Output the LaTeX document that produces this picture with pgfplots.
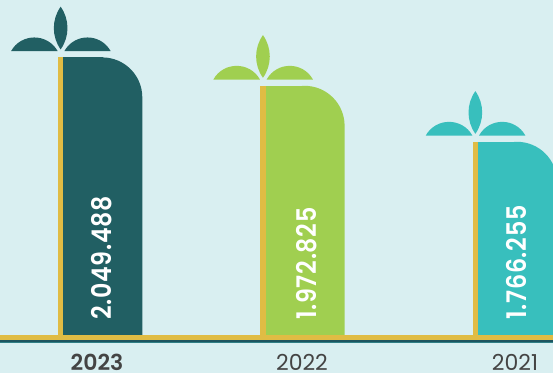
\documentclass[border=0pt]{standalone}
\usepackage{fontspec}
\usepackage{pgfplots}
\pgfplotsset{compat=1.18}
\setmainfont{Poppins}
\newfontfamily\valuefont[LetterSpace=3]{Poppins SemiBold}
\newfontfamily\yearbold{Poppins SemiBold}

\definecolor{bgpale}{HTML}{D9EFF1}
\definecolor{deepteal}{HTML}{215F63}
\definecolor{leafgreen}{HTML}{A0CF50}
\definecolor{turquoise}{HTML}{38BFBD}
\definecolor{gold}{HTML}{E0BC44}
\definecolor{groundline}{HTML}{1E5560}
\definecolor{groundlow}{HTML}{2F7F85}
\definecolor{yeartext}{HTML}{444444}

\tikzset{value label/.style={rotate=90, text=white, font=\fontsize{27}{28}\valuefont, anchor=west, inner sep=0pt, xscale=0.88}}

% Three-leaf sprout that sits on top of each bar
\pgfdeclareplotmark{sprout}{%
  \pgfpathmoveto{\pgfqpoint{0pt}{8pt}}
  \pgfpathcurveto{\pgfqpoint{9.1pt}{20.8pt}}{\pgfqpoint{9.1pt}{37.9pt}}{\pgfqpoint{0pt}{50.7pt}}
  \pgfpathcurveto{\pgfqpoint{-9.1pt}{37.9pt}}{\pgfqpoint{-9.1pt}{20.8pt}}{\pgfqpoint{0pt}{8pt}}
  \pgfpathclose
  \pgfpathmoveto{\pgfqpoint{-49.6pt}{6.3pt}}
  \pgfpathcurveto{\pgfqpoint{-39.4pt}{24.5pt}}{\pgfqpoint{-13.2pt}{24.5pt}}{\pgfqpoint{-3pt}{6.3pt}}
  \pgfpathclose
  \pgfpathmoveto{\pgfqpoint{3.7pt}{6.3pt}}
  \pgfpathcurveto{\pgfqpoint{13.9pt}{24.5pt}}{\pgfqpoint{39.8pt}{24.5pt}}{\pgfqpoint{50pt}{6.3pt}}
  \pgfpathclose
  \pgfusepathqfill
}

% One bar: gold edge, body with a rounded upper right corner, sprout
% #1 colour, #2 left edge of the gold strip, #3 value in thousands
\newcommand{\sproutbar}[3]{%
  \pgfmathsetmacro{\goldmid}{#2+2.65}
  \pgfmathsetmacro{\bodyl}{#2+5.3}
  \pgfmathsetmacro{\bodyr}{#2+84.3}
  \pgfmathsetmacro{\bodymid}{#2+25.3}
  \edef\tmp{%
    \noexpand\addplot[fill=#1, draw=none, rounded corners=40pt]
      coordinates {(\bodyr,1053.2) (\bodyr,#3) (\bodyl,#3) (\bodyl,1053.2)};
    \noexpand\addplot[ybar, bar width=40pt, bar shift=0pt, fill=#1, draw=none]
      coordinates {(\bodymid,#3)};
    \noexpand\addplot[ybar, bar width=5.3pt, bar shift=0pt, fill=gold, draw=none]
      coordinates {(\goldmid,#3)};
    \noexpand\addplot[only marks, mark=sprout, mark options={fill=#1, draw=none}]
      coordinates {(\goldmid,#3)};
  }\tmp
}

\begin{document}
\begin{tikzpicture}
\fill[bgpale] (0pt,-30pt) rectangle (553pt,343pt);
\begin{axis}[
  at={(0pt,0pt)}, anchor=south west,
  scale only axis, width=553pt, height=343pt,
  xmin=0, xmax=553, ymin=1023.7, ymax=2204.2,
  % value axis in thousands, with a non-uniform scale
  y coord trafo/.code={\pgfmathparse{#1<1972.825 ? 193.3+(#1-1766.255)*0.27109 : 249.3+(#1-1972.825)*0.37045}},
  axis line style={draw=none},
  ytick=\empty,
  xtick={97,302,515},
  xticklabels={{\yearbold 2023},2022,2021},
  major tick length=0pt,
  xticklabel style={font=\fontsize{22}{23}\selectfont, text=yeartext, anchor=center, yshift=-19pt},
  clip=true,
]
\sproutbar{deepteal}{58}{2049.488}
\sproutbar{leafgreen}{260.3}{1972.825}
\sproutbar{turquoise}{472.7}{1766.255}

% Ground line in three bands
\addplot[gold, line width=5.3pt] coordinates {(0,1044.5) (553,1044.5)};
\addplot[groundline, line width=1.8pt] coordinates {(0,1031.6) (553,1031.6)};
\addplot[groundlow, line width=1.3pt] coordinates {(0,1026.1) (553,1026.1)};

\node[value label] at (axis cs:101.7,1109) {2.049.488};
\node[value label] at (axis cs:307,1109) {1.972.825};
\node[value label] at (axis cs:517,1109) {1.766.255};
\end{axis}
\end{tikzpicture}
\end{document}
